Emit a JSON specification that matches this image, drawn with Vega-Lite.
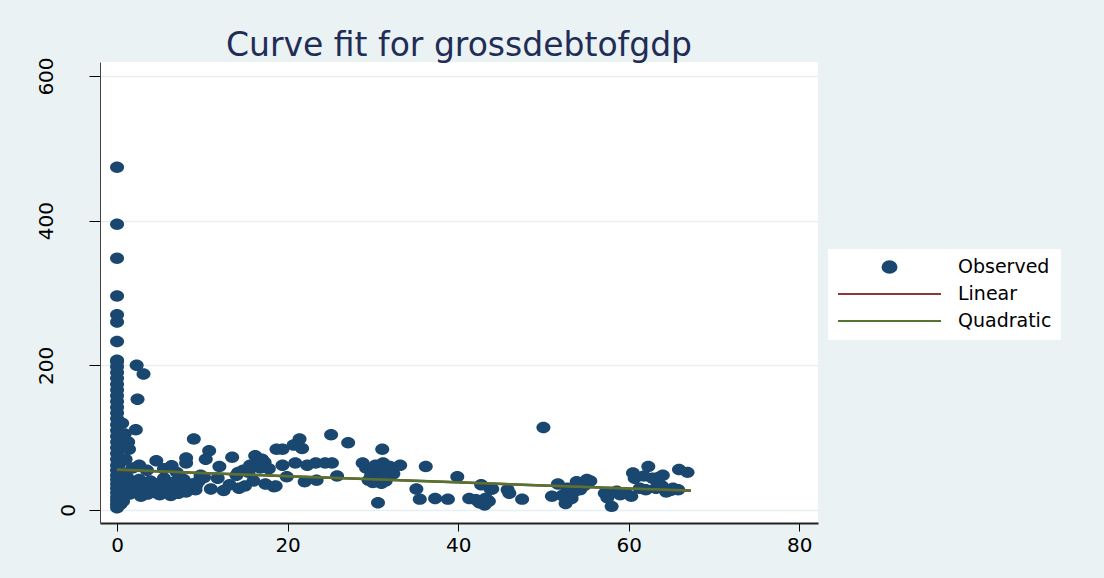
{
  "$schema": "https://vega.github.io/schema/vega-lite/v6.json",
  "autosize": {"type": "none"},
  "width": 718,
  "height": 461,
  "padding": {"left": 100, "top": 62, "right": 286, "bottom": 55},
  "background": "#eaf2f3",
  "title": {
    "text": "Curve fit for grossdebtofgdp",
    "font": "DejaVu Sans",
    "fontSize": 33,
    "fontWeight": "normal",
    "color": "#1f2d57",
    "anchor": "middle",
    "frame": "group",
    "offset": -6
  },
  "config": {
    "view": {"fill": "white", "stroke": null},
    "axis": {
      "labelFont": "DejaVu Sans",
      "labelFontSize": 20,
      "labelColor": "#000000",
      "tickColor": "#000000",
      "domainColor": "#333333",
      "title": null
    }
  },
  "datasets": {
    "observed": [
      {"series": "Observed", "x": 0, "y": 3}, {"series": "Observed", "x": 0, "y": 8}, {"series": "Observed", "x": 0, "y": 13}, {"series": "Observed", "x": 0, "y": 18}, {"series": "Observed", "x": 0, "y": 24}, {"series": "Observed", "x": 0, "y": 30}, {"series": "Observed", "x": 0, "y": 36}, {"series": "Observed", "x": 0, "y": 42}, {"series": "Observed", "x": 0, "y": 48}, {"series": "Observed", "x": 0, "y": 55}, {"series": "Observed", "x": 0, "y": 62}, {"series": "Observed", "x": 0, "y": 70}, {"series": "Observed", "x": 0, "y": 78}, {"series": "Observed", "x": 0, "y": 86}, {"series": "Observed", "x": 0, "y": 94}, {"series": "Observed", "x": 0, "y": 102}, {"series": "Observed", "x": 0, "y": 110}, {"series": "Observed", "x": 0, "y": 118}, {"series": "Observed", "x": 0, "y": 126}, {"series": "Observed", "x": 0, "y": 134}, {"series": "Observed", "x": 0, "y": 142}, {"series": "Observed", "x": 0, "y": 150}, {"series": "Observed", "x": 0, "y": 158}, {"series": "Observed", "x": 0, "y": 166}, {"series": "Observed", "x": 0, "y": 174}, {"series": "Observed", "x": 0, "y": 182}, {"series": "Observed", "x": 0, "y": 190}, {"series": "Observed", "x": 0, "y": 198}, {"series": "Observed", "x": 0, "y": 205}, {"series": "Observed", "x": 0, "y": 207}, {"series": "Observed", "x": 0, "y": 233}, {"series": "Observed", "x": 0, "y": 260}, {"series": "Observed", "x": 0, "y": 270}, {"series": "Observed", "x": 0, "y": 296}, {"series": "Observed", "x": 0, "y": 348}, {"series": "Observed", "x": 0, "y": 395}, {"series": "Observed", "x": 0, "y": 474},
      {"series": "Observed", "x": 0.3, "y": 15}, {"series": "Observed", "x": 0.4, "y": 40}, {"series": "Observed", "x": 0.3, "y": 65}, {"series": "Observed", "x": 0.5, "y": 20}, {"series": "Observed", "x": 0.8, "y": 28}, {"series": "Observed", "x": 1.0, "y": 35}, {"series": "Observed", "x": 1.2, "y": 45}, {"series": "Observed", "x": 0.6, "y": 52}, {"series": "Observed", "x": 0.8, "y": 90}, {"series": "Observed", "x": 0.9, "y": 105}, {"series": "Observed", "x": 0.6, "y": 120}, {"series": "Observed", "x": 0.4, "y": 8}, {"series": "Observed", "x": 0.7, "y": 12},
      {"series": "Observed", "x": 1.5, "y": 22}, {"series": "Observed", "x": 1.8, "y": 30}, {"series": "Observed", "x": 2.0, "y": 38}, {"series": "Observed", "x": 2.3, "y": 25}, {"series": "Observed", "x": 2.6, "y": 42}, {"series": "Observed", "x": 2.8, "y": 19}, {"series": "Observed", "x": 3.1, "y": 33}, {"series": "Observed", "x": 3.4, "y": 27}, {"series": "Observed", "x": 3.6, "y": 22}, {"series": "Observed", "x": 3.9, "y": 40}, {"series": "Observed", "x": 4.2, "y": 30}, {"series": "Observed", "x": 4.4, "y": 24}, {"series": "Observed", "x": 4.7, "y": 36}, {"series": "Observed", "x": 5.0, "y": 21}, {"series": "Observed", "x": 5.2, "y": 28}, {"series": "Observed", "x": 5.5, "y": 44}, {"series": "Observed", "x": 5.8, "y": 25}, {"series": "Observed", "x": 6.1, "y": 33}, {"series": "Observed", "x": 6.3, "y": 20}, {"series": "Observed", "x": 6.6, "y": 38}, {"series": "Observed", "x": 6.9, "y": 27}, {"series": "Observed", "x": 7.2, "y": 23}, {"series": "Observed", "x": 7.5, "y": 31}, {"series": "Observed", "x": 7.8, "y": 42}, {"series": "Observed", "x": 8.1, "y": 25}, {"series": "Observed", "x": 8.4, "y": 30}, {"series": "Observed", "x": 8.8, "y": 36}, {"series": "Observed", "x": 9.2, "y": 28}, {"series": "Observed", "x": 9.6, "y": 40},
      {"series": "Observed", "x": 1.3, "y": 94}, {"series": "Observed", "x": 1.4, "y": 84}, {"series": "Observed", "x": 2.2, "y": 111}, {"series": "Observed", "x": 2.3, "y": 200}, {"series": "Observed", "x": 3.1, "y": 188}, {"series": "Observed", "x": 2.4, "y": 153}, {"series": "Observed", "x": 1.0, "y": 70}, {"series": "Observed", "x": 2.6, "y": 62}, {"series": "Observed", "x": 4.6, "y": 68}, {"series": "Observed", "x": 6.4, "y": 61}, {"series": "Observed", "x": 8.1, "y": 72}, {"series": "Observed", "x": 8.1, "y": 65}, {"series": "Observed", "x": 9.0, "y": 98}, {"series": "Observed", "x": 10.4, "y": 70}, {"series": "Observed", "x": 10.8, "y": 82}, {"series": "Observed", "x": 13.5, "y": 73}, {"series": "Observed", "x": 16.2, "y": 75}, {"series": "Observed", "x": 18.7, "y": 84}, {"series": "Observed", "x": 1.8, "y": 58}, {"series": "Observed", "x": 3.5, "y": 55}, {"series": "Observed", "x": 5.5, "y": 57}, {"series": "Observed", "x": 7.0, "y": 52}, {"series": "Observed", "x": 9.8, "y": 48},
      {"series": "Observed", "x": 9.3, "y": 35}, {"series": "Observed", "x": 10.2, "y": 45}, {"series": "Observed", "x": 11.0, "y": 29}, {"series": "Observed", "x": 11.8, "y": 44}, {"series": "Observed", "x": 12.5, "y": 27}, {"series": "Observed", "x": 13.2, "y": 35}, {"series": "Observed", "x": 14.0, "y": 48}, {"series": "Observed", "x": 14.3, "y": 30}, {"series": "Observed", "x": 15.4, "y": 52}, {"series": "Observed", "x": 15.0, "y": 33}, {"series": "Observed", "x": 16.0, "y": 40}, {"series": "Observed", "x": 16.8, "y": 58}, {"series": "Observed", "x": 17.4, "y": 36}, {"series": "Observed", "x": 12.0, "y": 60}, {"series": "Observed", "x": 14.8, "y": 55}, {"series": "Observed", "x": 15.6, "y": 62}, {"series": "Observed", "x": 17.0, "y": 70}, {"series": "Observed", "x": 14.2, "y": 52}, {"series": "Observed", "x": 16.5, "y": 60}, {"series": "Observed", "x": 17.3, "y": 66}, {"series": "Observed", "x": 18.4, "y": 32},
      {"series": "Observed", "x": 17.8, "y": 57}, {"series": "Observed", "x": 18.6, "y": 33}, {"series": "Observed", "x": 19.9, "y": 46}, {"series": "Observed", "x": 22.0, "y": 39}, {"series": "Observed", "x": 23.4, "y": 41}, {"series": "Observed", "x": 25.8, "y": 47},
      {"series": "Observed", "x": 25.1, "y": 104}, {"series": "Observed", "x": 27.1, "y": 93}, {"series": "Observed", "x": 21.4, "y": 98}, {"series": "Observed", "x": 19.4, "y": 84}, {"series": "Observed", "x": 20.7, "y": 90}, {"series": "Observed", "x": 21.7, "y": 85}, {"series": "Observed", "x": 31.1, "y": 84}, {"series": "Observed", "x": 19.4, "y": 62}, {"series": "Observed", "x": 20.9, "y": 65}, {"series": "Observed", "x": 22.3, "y": 62}, {"series": "Observed", "x": 23.3, "y": 65}, {"series": "Observed", "x": 24.4, "y": 65}, {"series": "Observed", "x": 25.2, "y": 65}, {"series": "Observed", "x": 28.8, "y": 65}, {"series": "Observed", "x": 31.2, "y": 65}, {"series": "Observed", "x": 29.9, "y": 55}, {"series": "Observed", "x": 30.6, "y": 53}, {"series": "Observed", "x": 31.8, "y": 51}, {"series": "Observed", "x": 29.5, "y": 41}, {"series": "Observed", "x": 31.0, "y": 37},
      {"series": "Observed", "x": 29.2, "y": 58}, {"series": "Observed", "x": 29.8, "y": 48}, {"series": "Observed", "x": 30.3, "y": 62}, {"series": "Observed", "x": 30.8, "y": 44}, {"series": "Observed", "x": 31.2, "y": 55}, {"series": "Observed", "x": 31.6, "y": 47}, {"series": "Observed", "x": 32.0, "y": 60}, {"series": "Observed", "x": 32.4, "y": 50}, {"series": "Observed", "x": 30.0, "y": 38}, {"series": "Observed", "x": 31.5, "y": 40}, {"series": "Observed", "x": 30.6, "y": 10},
      {"series": "Observed", "x": 33.2, "y": 62}, {"series": "Observed", "x": 35.1, "y": 29}, {"series": "Observed", "x": 35.5, "y": 15}, {"series": "Observed", "x": 36.2, "y": 60}, {"series": "Observed", "x": 37.3, "y": 16}, {"series": "Observed", "x": 38.8, "y": 15}, {"series": "Observed", "x": 39.9, "y": 46}, {"series": "Observed", "x": 41.3, "y": 16}, {"series": "Observed", "x": 42.1, "y": 14}, {"series": "Observed", "x": 42.7, "y": 35}, {"series": "Observed", "x": 43.1, "y": 7}, {"series": "Observed", "x": 43.2, "y": 16}, {"series": "Observed", "x": 43.8, "y": 29}, {"series": "Observed", "x": 44.0, "y": 29}, {"series": "Observed", "x": 43.4, "y": 14}, {"series": "Observed", "x": 42.5, "y": 10}, {"series": "Observed", "x": 43.6, "y": 12},
      {"series": "Observed", "x": 46.0, "y": 23}, {"series": "Observed", "x": 47.5, "y": 15}, {"series": "Observed", "x": 45.8, "y": 28},
      {"series": "Observed", "x": 50.0, "y": 114}, {"series": "Observed", "x": 51.0, "y": 19}, {"series": "Observed", "x": 51.7, "y": 36}, {"series": "Observed", "x": 52.6, "y": 9}, {"series": "Observed", "x": 53.3, "y": 16}, {"series": "Observed", "x": 53.9, "y": 39}, {"series": "Observed", "x": 54.3, "y": 28}, {"series": "Observed", "x": 55.1, "y": 42}, {"series": "Observed", "x": 52.2, "y": 20}, {"series": "Observed", "x": 53.5, "y": 24}, {"series": "Observed", "x": 54.8, "y": 34}, {"series": "Observed", "x": 55.5, "y": 40}, {"series": "Observed", "x": 52.8, "y": 30},
      {"series": "Observed", "x": 57.2, "y": 23}, {"series": "Observed", "x": 58.0, "y": 5}, {"series": "Observed", "x": 59.0, "y": 21}, {"series": "Observed", "x": 60.3, "y": 19}, {"series": "Observed", "x": 57.5, "y": 17}, {"series": "Observed", "x": 58.6, "y": 26}, {"series": "Observed", "x": 59.6, "y": 24},
      {"series": "Observed", "x": 60.5, "y": 51}, {"series": "Observed", "x": 60.7, "y": 44}, {"series": "Observed", "x": 62.3, "y": 60}, {"series": "Observed", "x": 62.8, "y": 44}, {"series": "Observed", "x": 64.0, "y": 48}, {"series": "Observed", "x": 61.3, "y": 30}, {"series": "Observed", "x": 63.2, "y": 30}, {"series": "Observed", "x": 64.4, "y": 25}, {"series": "Observed", "x": 65.9, "y": 56}, {"series": "Observed", "x": 66.9, "y": 52}, {"series": "Observed", "x": 65.8, "y": 28}, {"series": "Observed", "x": 61.8, "y": 47}, {"series": "Observed", "x": 63.5, "y": 45}, {"series": "Observed", "x": 62.0, "y": 28}, {"series": "Observed", "x": 64.9, "y": 27}, {"series": "Observed", "x": 63.9, "y": 33}, {"series": "Observed", "x": 65.2, "y": 30}
    ],
    "fits": [
      {"series": "Linear", "x": 0, "y": 55.3}, {"series": "Linear", "x": 67.3, "y": 26.6},
      {"series": "Quadratic", "x": 0, "y": 56.0}, {"series": "Quadratic", "x": 10, "y": 51.3}, {"series": "Quadratic", "x": 20, "y": 46.8}, {"series": "Quadratic", "x": 30, "y": 42.5}, {"series": "Quadratic", "x": 40, "y": 38.2}, {"series": "Quadratic", "x": 50, "y": 34.0}, {"series": "Quadratic", "x": 60, "y": 29.8}, {"series": "Quadratic", "x": 67.3, "y": 26.8}
    ]
  },
  "encoding": {
    "x": {
      "field": "x",
      "type": "quantitative",
      "scale": {"domain": [-2, 82.2], "nice": false, "zero": false},
      "axis": {"values": [0, 20, 40, 60, 80], "grid": false, "tickSize": 8, "labelPadding": 4, "domainWidth": 2, "domainColor": "#222222"}
    },
    "y": {
      "field": "y",
      "type": "quantitative",
      "scale": {"domain": [-18, 619.4], "nice": false, "zero": false},
      "axis": {
        "values": [0, 200, 400, 600],
        "grid": true,
        "gridColor": "#e6eef1",
        "gridWidth": 1.5,
        "tickSize": 11,
        "labelAngle": 270,
        "labelAlign": "center",
        "labelBaseline": "bottom",
        "labelPadding": {"condition": {"test": "datum.value === 0", "value": 11}, "value": 33},
        "domainColor": "#444444"
      }
    },
    "color": {
      "field": "series",
      "type": "nominal",
      "scale": {"domain": ["Observed", "Linear", "Quadratic"], "range": ["#1a476f", "#90353b", "#55752f"]},
      "legend": {
        "orient": "none",
        "legendX": 728,
        "legendY": 187,
        "title": null,
        "fillColor": "white",
        "padding": 9,
        "symbolType": "stroke",
        "symbolSize": 10609,
        "symbolStrokeWidth": 2,
        "clipHeight": 18,
        "rowPadding": 8,
        "labelFont": "DejaVu Sans",
        "labelFontSize": 19,
        "labelColor": "#000000",
        "labelOffset": 16,
        "labelExpr": "datum.label + ' '",
        "encode": {
          "symbols": {
            "update": {
              "shape": {"signal": "datum.value === 'Observed' ? 'M-1,0A1,0.82,0,1,0,1,0A1,0.82,0,1,0,-1,0Z' : 'stroke'"},
              "size": {"signal": "datum.value === 'Observed' ? 196 : 10609"},
              "fill": {"signal": "datum.value === 'Observed' ? '#1a476f' : 'transparent'"},
              "stroke": {"signal": "datum.value === 'Observed' ? 'transparent' : (datum.value === 'Linear' ? '#90353b' : '#55752f')"},
              "strokeWidth": {"value": 2},
              "opacity": {"value": 1}
            }
          }
        }
      }
    }
  },
  "layer": [
    {
      "data": {"name": "observed"},
      "mark": {"type": "point", "filled": true, "opacity": 1, "size": 196, "strokeWidth": 0, "shape": "M-1,0A1,0.82,0,1,0,1,0A1,0.82,0,1,0,-1,0Z"}
    },
    {
      "data": {"name": "fits"},
      "mark": {"type": "line", "strokeWidth": 2.5}
    }
  ]
}
